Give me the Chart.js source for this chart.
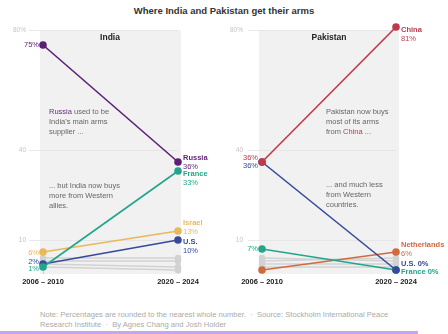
<!DOCTYPE html>
<html>
<head>
<meta charset="utf-8">
<script src="https://cdn.jsdelivr.net/npm/chart.js@4.4.1/dist/chart.umd.min.js"></script>
<style>
  html, body { margin: 0; padding: 0; background: #fff; }
  body { width: 448px; height: 334px; position: relative; overflow: hidden; font-family: 'Liberation Sans', Arial, sans-serif; }
  #title { position: absolute; top: 5px; left: 0; width: 448px; text-align: center; font-size: 9.5px; font-weight: bold; color: #333; }
  .panel { position: absolute; top: 0; width: 224px; height: 300px; }
  .note { position: absolute; color: #666; font-size: 7.5px; line-height: 10px; }
  #foot { position: absolute; left: 40px; top: 310px; width: 400px; color: #aaa; font-size: 7.6px; line-height: 10px; white-space: nowrap; }
  #bar { position: absolute; left: 0; top: 331px; width: 418px; height: 3px; background: #c8a3f2; }
</style>
</head>
<body>
<div id="title">Where India and Pakistan get their arms</div>
<div class="panel" style="left:0"><canvas id="india" width="224" height="300"></canvas></div>
<div class="panel" style="left:224px"><canvas id="pakistan" width="224" height="300"></canvas></div>

<div class="note" style="left:49px;top:107px"><span style="color:#6b2c80">Russia</span> used to be<br>India's main arms<br>supplier ...</div>
<div class="note" style="left:49px;top:181px">... but India now buys<br>more from Western<br>allies.</div>
<div class="note" style="left:326px;top:107px">Pakistan now buys<br>most of its arms<br>from <span style="color:#c0394a">China</span> ...</div>
<div class="note" style="left:326px;top:180px">... and much less<br>from Western<br>countries.</div>

<div id="foot">Note: Percentages are rounded to the nearest whole number. &nbsp;·&nbsp; Source: Stockholm International Peace<br>Research Institute &nbsp;·&nbsp; By Agnes Chang and Josh Holder</div>
<div id="bar"></div>

<script>
const periods = ['2006 – 2010', '2020 – 2024'];
const yTicks = [10, 40, 80];

// India, share of arms imports (%)
const indiaRussia = [75, 36];
const indiaFrance = [1, 33];
const indiaIsrael = [6, 13];
const indiaUS = [2, 10];
const indiaOthers = [[4, 4], [3, 3], [2, 1], [1, 0]];

// Pakistan, share of arms imports (%)
const pakChina = [36, 81];
const pakUS = [36, 0];
const pakFrance = [7, 0];
const pakNetherlands = [0, 6];
const pakOthers = [[4, 3], [3, 4], [2, 2], [1, 1]];

const colors = {
  russia: '#5e1f74',
  france: '#22a68b',
  israel: '#e8b95a',
  us: '#354a9c',
  china: '#c0394a',
  netherlands: '#cf6a40',
  other: '#d2d2d2'
};

const FONT = "'Liberation Sans', Arial, sans-serif";

function line(label, data, color, r = 3) {
  return {
    label, data,
    borderColor: color, backgroundColor: color,
    borderWidth: 1.6, pointRadius: r, pointHoverRadius: r,
    clip: false
  };
}

function greyLines(rows) {
  return rows.map((d, i) => line('other' + i, d, colors.other, 2.5));
}

const panelPlugin = {
  id: 'panel',
  beforeDraw(chart, args, opts) {
    const { ctx, chartArea: a, scales: { y } } = chart;
    const top = y.getPixelForValue(80);
    ctx.save();
    ctx.fillStyle = '#f1f1f1';
    ctx.fillRect(a.left - 3, top, a.right - a.left + 6, a.bottom + 4 - top);
    ctx.restore();
  },
  afterDraw(chart, args, opts) {
    const { ctx, chartArea: a, scales: { y } } = chart;
    ctx.save();
    ctx.font = `bold 8.5px ${FONT}`;
    ctx.fillStyle = '#222';
    ctx.textAlign = 'center';
    ctx.textBaseline = 'middle';
    ctx.fillText(opts.name, opts.titleX, y.getPixelForValue(80) + 8);
    ctx.restore();
  }
};

// labels at the ends of the coloured lines
const endPlugin = {
  id: 'ends',
  afterDatasetsDraw(chart, args, opts) {
    const ctx = chart.ctx;
    ctx.save();
    ctx.textBaseline = 'middle';
    opts.items.forEach(s => {
      const pts = chart.getDatasetMeta(s.index).data;
      const vals = chart.data.datasets[s.index].data;
      ctx.fillStyle = s.color;
      if (s.leftDy !== undefined) {
        ctx.font = `7.5px ${FONT}`;
        ctx.textAlign = 'right';
        ctx.fillText(vals[0] + '%', pts[0].x - 4, pts[0].y + s.leftDy);
      }
      if (s.rightDy !== undefined) {
        const name = chart.data.datasets[s.index].label;
        ctx.textAlign = 'left';
        const x = pts[1].x + 5;
        if (s.oneLine) {
          ctx.font = `bold 7.5px ${FONT}`;
          ctx.fillText(name + ' ' + vals[1] + '%', x, pts[1].y + s.rightDy);
        } else {
          ctx.font = `bold 7.5px ${FONT}`;
          ctx.fillText(name, x, pts[1].y + s.rightDy);
          ctx.font = `7.5px ${FONT}`;
          ctx.fillText(vals[1] + '%', x, pts[1].y + s.rightDy + 8.5);
        }
      }
    });
    ctx.restore();
  }
};

function makeChart(id, datasets, cfg) {
  return new Chart(document.getElementById(id), {
    type: 'line',
    data: { labels: periods, datasets },
    plugins: [panelPlugin, endPlugin],
    options: {
      responsive: false,
      animation: false,
      layout: { padding: { top: 27, right: cfg.right, left: 0, bottom: 0 } },
      scales: {
        x: {
          offset: false,
          afterFit: s => { s.height = 30; },
          grid: { display: true, drawOnChartArea: false, color: '#cfcfcf', tickLength: 4 },
          border: { display: false },
          ticks: { color: '#222', font: { family: FONT, size: 7.5, weight: 'bold' }, padding: 3, maxRotation: 0 }
        },
        y: {
          min: 0, max: 81,
          afterFit: s => { s.width = cfg.left; },
          afterBuildTicks: s => { s.ticks = yTicks.map(v => ({ value: v })); },
          grid: { color: '#e3e3e3', tickLength: 14, lineWidth: 0.8 },
          border: { display: false },
          ticks: {
            color: '#c4c4c4', padding: cfg.tickPad,
            font: { family: FONT, size: 6.5 },
            callback: v => v === 80 ? '80%' : String(v)
          }
        }
      },
      plugins: {
        legend: { display: false },
        tooltip: { enabled: false },
        panel: { name: cfg.name, titleX: cfg.titleX },
        ends: { items: cfg.ends }
      }
    }
  });
}

makeChart('india', [
  line('Russia', indiaRussia, colors.russia),
  line('France', indiaFrance, colors.france),
  line('Israel', indiaIsrael, colors.israel),
  line('U.S.', indiaUS, colors.us),
  ...greyLines(indiaOthers)
], {
  name: 'India', titleX: 110, left: 43, right: 46, tickPad: 3,
  ends: [
    { index: 0, color: colors.russia, leftDy: 0, rightDy: -4 },
    { index: 1, color: colors.france, leftDy: 2, rightDy: 3 },
    { index: 2, color: colors.israel, leftDy: 1, rightDy: -8 },
    { index: 3, color: colors.us, leftDy: -2, rightDy: 2 }
  ]
});

makeChart('pakistan', [
  line('China', pakChina, colors.china),
  line('U.S.', pakUS, colors.us),
  line('France', pakFrance, colors.france),
  line('Netherlands', pakNetherlands, colors.netherlands),
  ...greyLines(pakOthers)
], {
  name: 'Pakistan', titleX: 105, left: 38, right: 52, tickPad: 5,
  ends: [
    { index: 0, color: colors.china, leftDy: -4, rightDy: 3 },
    { index: 1, color: colors.us, leftDy: 4, rightDy: -6, oneLine: true },
    { index: 2, color: colors.france, leftDy: 0, rightDy: 2, oneLine: true },
    { index: 3, color: colors.netherlands, rightDy: -7 }
  ]
});
</script>
</body>
</html>
